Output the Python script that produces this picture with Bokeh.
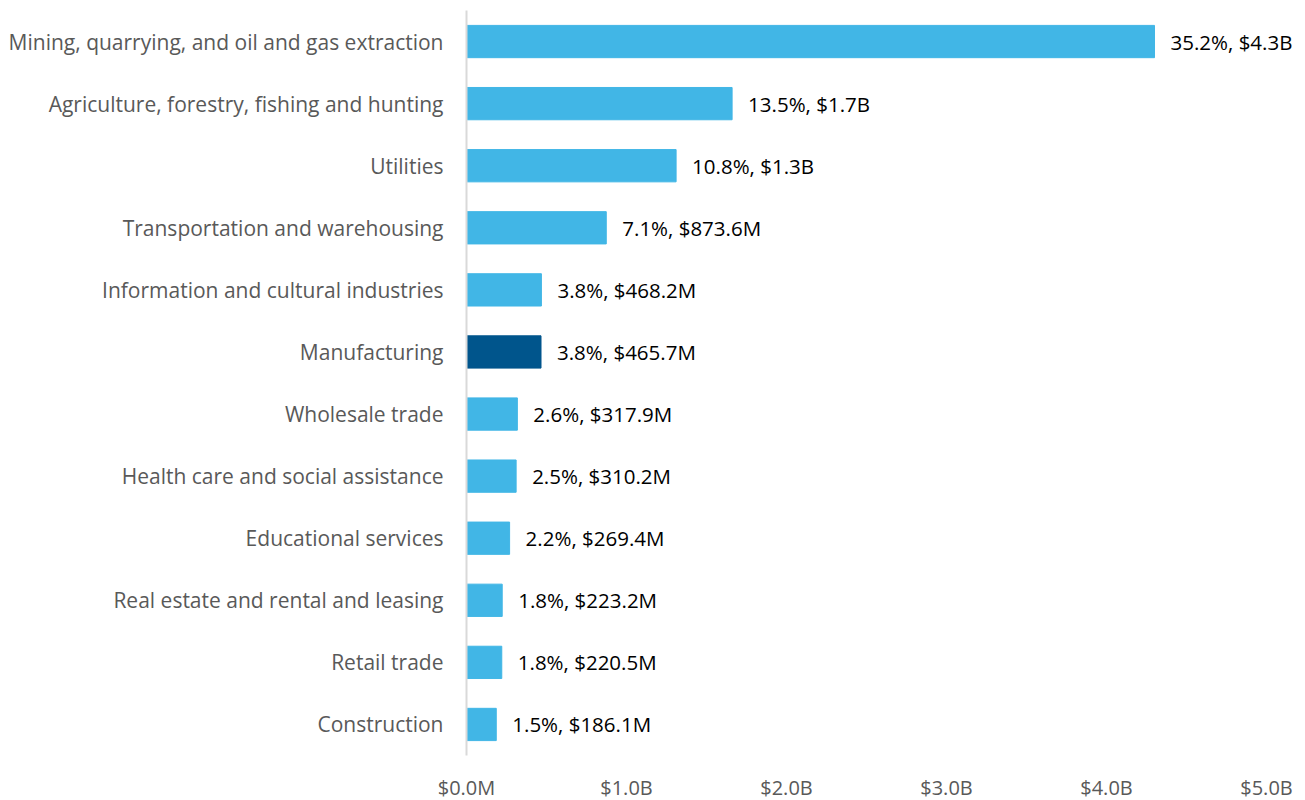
from bokeh.plotting import figure
from bokeh.models import ColumnDataSource, FactorRange, FixedTicker
from bokeh.core.properties import value
from bokeh.embed import file_html
from bokeh.resources import INLINE

categories = [
    "Mining, quarrying, and oil and gas extraction",
    "Agriculture, forestry, fishing and hunting",
    "Utilities",
    "Transportation and warehousing",
    "Information and cultural industries",
    "Manufacturing",
    "Wholesale trade",
    "Health care and social assistance",
    "Educational services",
    "Real estate and rental and leasing",
    "Retail trade",
    "Construction",
]
values_musd = [4300, 1660, 1310, 873.6, 468.2, 465.7, 317.9, 310.2, 269.4, 223.2, 220.5, 186.1]
shares_pct = [35.2, 13.5, 10.8, 7.1, 3.8, 3.8, 2.6, 2.5, 2.2, 1.8, 1.8, 1.5]
highlight = "Manufacturing"
x_ticks = [0, 1000, 2000, 3000, 4000, 5000]
x_tick_labels = ["$0.0M", "$1.0B", "$2.0B", "$3.0B", "$4.0B", "$5.0B"]

LIGHT = "#41B6E6"
DARK = "#00558C"
GREY = "#595959"
FONT = "Open Sans"


def fmt_money(v):
    return f"${v/1000:.1f}B" if v >= 1000 else f"${v:.1f}M"


labels = [f"{s:.1f}%, {fmt_money(v)}" for s, v in zip(shares_pct, values_musd)]
colors = [DARK if c == highlight else LIGHT for c in categories]

src = ColumnDataSource(dict(cat=categories, val=values_musd, lab=labels, col=colors))

p = figure(
    y_range=FactorRange(factors=list(reversed(categories))),
    x_range=(0, 5200),
    frame_width=832, frame_height=745,
    min_border_left=466, min_border_right=0, min_border_top=10, min_border_bottom=44,
    output_backend="svg", toolbar_location=None,
)

p.hbar(y="cat", right="val", left=0, height=0.52, color="col", source=src)
p.text(x="val", y="cat", text="lab", source=src, x_offset=16,
       text_baseline="middle", text_align="left", text_color="black",
       text_font=value(FONT), text_font_size="20.5px")

p.xgrid.visible = False
p.ygrid.visible = False
p.outline_line_color = None

p.xaxis.ticker = FixedTicker(ticks=x_ticks)
p.xaxis.major_label_overrides = {t: l for t, l in zip(x_ticks, x_tick_labels)}
p.xaxis.axis_line_color = None
p.xaxis.major_tick_line_color = None
p.xaxis.minor_tick_line_color = None
p.xaxis.major_label_text_color = GREY
p.xaxis.major_label_text_font = FONT
p.xaxis.major_label_text_font_size = "20px"
p.xaxis.major_label_standoff = 12

p.yaxis.axis_line_color = "#D9D9D9"
p.yaxis.axis_line_width = 2
p.yaxis.major_tick_line_color = None
p.yaxis.minor_tick_line_color = None
p.yaxis.major_label_text_color = GREY
p.yaxis.major_label_text_font = FONT
p.yaxis.major_label_text_font_size = "21px"
p.yaxis.major_label_standoff = 17

open("out.html", "w").write(file_html(p, INLINE))
